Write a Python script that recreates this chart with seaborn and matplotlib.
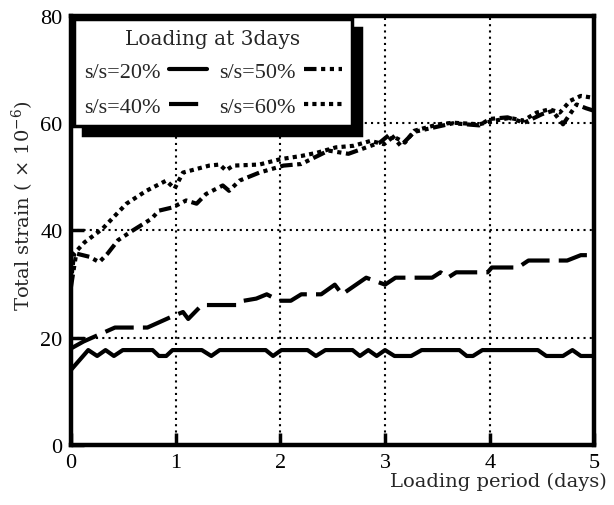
import matplotlib
matplotlib.use("Agg")
import matplotlib.pyplot as plt
import numpy as np
import pandas as pd
import seaborn as sns

# ---- data ----
series_labels = ["s/s=20%", "s/s=40%", "s/s=50%", "s/s=60%"]

days_20 = [0, 0.165, 0.25, 0.33, 0.41, 0.495, 0.78, 0.84, 0.91, 0.97, 1.25, 1.34, 1.42,
           1.86, 1.93, 2.01, 2.26, 2.34, 2.43, 2.69, 2.76, 2.84, 2.92, 3.0, 3.09, 3.25,
           3.35, 3.71, 3.78, 3.84, 3.93, 4.46, 4.54, 4.70, 4.79, 4.87, 5.0]
strain_20 = [14.0, 17.7, 16.6, 17.7, 16.6, 17.7, 17.7, 16.6, 16.6, 17.7, 17.7, 16.6, 17.7,
             17.7, 16.6, 17.7, 17.7, 16.6, 17.7, 17.7, 16.6, 17.7, 16.6, 17.7, 16.6, 16.6,
             17.7, 17.7, 16.6, 16.6, 17.7, 17.7, 16.6, 16.6, 17.7, 16.6, 16.6]

days_40 = [0, 0.12, 0.42, 0.73, 0.97, 1.07, 1.12, 1.25, 1.60, 1.65, 1.77, 1.87, 1.99, 2.10,
           2.20, 2.39, 2.52, 2.59, 2.82, 3.0, 3.10, 3.45, 3.53, 3.60, 3.68, 3.98, 4.02, 4.27,
           4.37, 4.74, 4.87, 5.0]
strain_40 = [18.0, 19.3, 21.9, 21.9, 24.0, 24.8, 23.5, 26.1, 26.1, 26.9, 27.3, 28.1, 26.9, 26.9,
             28.1, 28.1, 29.9, 28.1, 31.2, 29.9, 31.2, 31.2, 32.2, 31.2, 32.2, 32.2, 33.1, 33.1,
             34.4, 34.4, 35.4, 35.4]

days_50 = [0, 0.05, 0.175, 0.27, 0.35, 0.45, 0.59, 0.77, 0.84, 0.97, 1.10, 1.20, 1.29, 1.45,
           1.51, 1.61, 1.80, 1.87, 2.03, 2.20, 2.46, 2.65, 2.95, 3.05, 3.15, 3.28, 3.51, 3.65,
           3.90, 4.0, 4.17, 4.33, 4.50, 4.60, 4.70, 4.83, 4.92, 5.0]
strain_50 = [29.5, 35.7, 35.1, 34.1, 35.7, 38.2, 40.0, 42.2, 43.7, 44.3, 45.6, 45.0, 46.8, 48.4,
             47.4, 49.3, 50.8, 51.2, 52.1, 52.4, 54.9, 54.3, 56.4, 58.0, 55.8, 58.4, 59.4, 60.0,
             59.6, 60.8, 61.1, 60.1, 61.7, 62.3, 59.8, 63.5, 62.8, 62.3]

days_60 = [0, 0.03, 0.13, 0.30, 0.53, 0.72, 0.91, 0.99, 1.07, 1.32, 1.42, 1.48, 1.55, 1.80,
           2.0, 2.2, 2.35, 2.53, 2.70, 2.86, 2.99, 3.08, 3.19, 3.28, 3.51, 3.65, 3.90, 4.0,
           4.19, 4.32, 4.45, 4.57, 4.67, 4.77, 4.87, 4.97, 5.0]
strain_60 = [30.5, 35.7, 37.8, 40.3, 45.0, 47.4, 49.3, 47.8, 50.8, 52.1, 52.3, 51.2, 52.1, 52.3,
             53.3, 53.9, 54.5, 55.5, 55.8, 56.7, 56.1, 57.5, 56.4, 58.6, 59.8, 60.1, 59.8, 60.3,
             61.0, 60.5, 62.0, 62.6, 62.0, 64.2, 65.1, 64.8, 64.5]

x_ticks = [0, 1, 2, 3, 4, 5]
y_ticks = [0, 20, 40, 60, 80]

# ---- styling ----
sns.set_style("ticks")
plt.rcParams["font.family"] = ["Liberation Serif", "DejaVu Serif"]
plt.rcParams["mathtext.fontset"] = "custom"
plt.rcParams["mathtext.rm"] = "DejaVu Serif"
plt.rcParams["mathtext.it"] = "DejaVu Serif:italic"

frames = []
for lab, d, s in zip(series_labels,
                     [days_20, days_40, days_50, days_60],
                     [strain_20, strain_40, strain_50, strain_60]):
    frames.append(pd.DataFrame({"day": d, "strain": s, "series": lab}))
df = pd.concat(frames, ignore_index=True)

dash_map = {
    "s/s=20%": "",
    "s/s=40%": (7, 2.2),
    "s/s=50%": (3, 1.1, 1, 1.1, 1, 1.1),
    "s/s=60%": (1, 1),
}

LW = 3.0
fig = plt.figure(figsize=(6.14, 5.06), dpi=100)
ax = fig.add_axes([0.1156, 0.1186, 0.8525, 0.8478])

sns.lineplot(data=df, x="day", y="strain", style="series", style_order=series_labels,
             dashes=dash_map, color="black", linewidth=LW, estimator=None, sort=False,
             ax=ax, legend="full")

ax.set_xlim(0, 5)
ax.set_ylim(0, 80)
ax.set_xticks(x_ticks)
ax.set_yticks(y_ticks)
ax.tick_params(direction="in", length=9, width=2.5, labelsize=16, pad=6, colors="black")
for sp in ax.spines.values():
    sp.set_visible(True)
    sp.set_linewidth(3.2)
    sp.set_color("black")
ax.grid(True, color="black", linestyle=(0, (1, 2)), linewidth=1.5)

ax.set_xlabel("Loading period (days)", fontsize=14, family="DejaVu Serif", ha="right", va="top")
ax.xaxis.set_label_coords(1.024, -0.062)
ax.set_ylabel(r"Total strain ( $\times$ 10$^{\mathregular{-6}}$)", fontsize=14, family="DejaVu Serif")
ax.yaxis.set_label_coords(-0.066, 0.56)

handles, labs = ax.get_legend_handles_labels()
pairs = [(h, l) for h, l in zip(handles, labs) if l in series_labels]
handles = [p[0] for p in pairs]
labs = [p[1] for p in pairs]
leg = ax.legend(handles, labs, ncol=2, title="Loading at 3days", loc="upper left",
                bbox_to_anchor=(0.0, 1.0), borderaxespad=0.15, markerfirst=False,
                handlelength=1.7, handletextpad=0.4, columnspacing=0.55,
                labelspacing=0.63, borderpad=0.42, fontsize=16, frameon=True,
                fancybox=False, edgecolor="black", framealpha=1,
                title_fontproperties={"family": "DejaVu Serif", "size": 14.5},
                shadow={"ox": 6.5, "oy": -6.5, "color": "black", "alpha": 1})
leg.get_frame().set_linewidth(2.5)
for ln in leg.get_lines():
    ln.set_linewidth(LW)

fig.savefig("out.png", dpi=100)
